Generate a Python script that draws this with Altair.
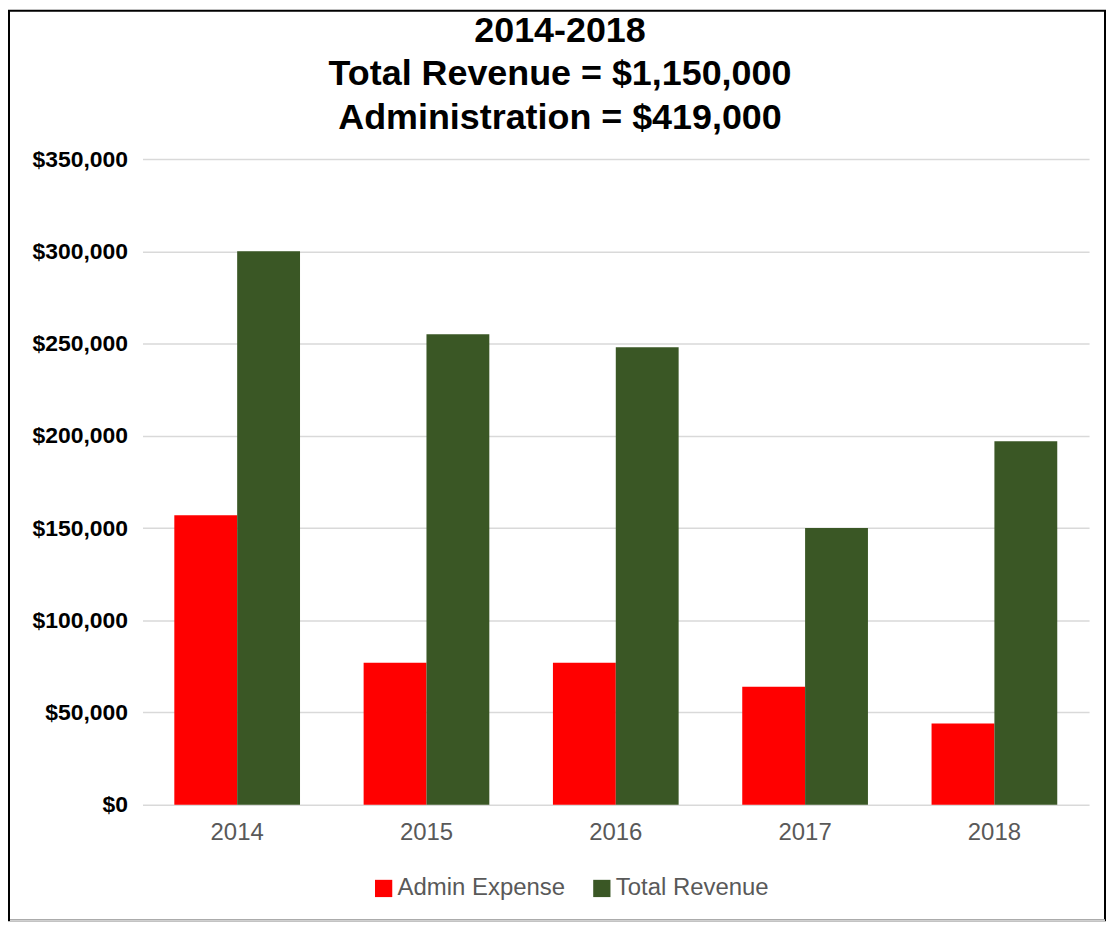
import altair as alt
import pandas as pd

years = ["2014", "2015", "2016", "2017", "2018"]
admin_expense = [157000, 77000, 77000, 64000, 44000]
total_revenue = [300000, 255000, 248000, 150000, 197000]
series_names = ["Admin Expense", "Total Revenue"]
series_colors = ["#FF0000", "#3A5725"]
y_ticks = [0, 50000, 100000, 150000, 200000, 250000, 300000, 350000]
title_lines = ["2014-2018", "Total Revenue = $1,150,000", "Administration = $419,000"]

rows = []
for i, y in enumerate(years):
    rows.append({"year": y, "series": series_names[0], "value": admin_expense[i]})
    rows.append({"year": y, "series": series_names[1], "value": total_revenue[i]})
df = pd.DataFrame(rows)

W, H = 950, 648
PL, PT, PR, PB = 135, 150, 17, 117

bars = alt.Chart(df).mark_bar().encode(
    x=alt.X("year:N", sort=years, title=None,
            scale=alt.Scale(paddingInner=0.336, paddingOuter=0.168),
            axis=alt.Axis(labelAngle=0, labelFont="Liberation Sans", labelFontSize=24,
                          labelColor="#595959", labelPadding=16, ticks=False,
                          domain=False, grid=False)),
    xOffset=alt.XOffset("series:N", sort=series_names,
                        scale=alt.Scale(paddingInner=0, paddingOuter=0)),
    y=alt.Y("value:Q", title=None,
            scale=alt.Scale(domain=[0, 350000], nice=False),
            axis=alt.Axis(values=y_ticks, format="$,.0f", labelFont="Liberation Sans",
                          labelFontSize=23, labelFontWeight="bold", labelColor="#000000",
                          labelPadding=15, ticks=False, domain=False,
                          gridColor="#d9d9d9", gridWidth=1.5)),
    color=alt.Color("series:N", sort=series_names,
                    scale=alt.Scale(domain=series_names, range=series_colors),
                    legend=alt.Legend(title=None, orient="none", direction="horizontal",
                                      legendX=230, legendY=720, padding=0,
                                      symbolType="square", symbolSize=300,
                                      symbolStrokeWidth=0, labelFont="Liberation Sans",
                                      labelFontSize=24, labelColor="#595959",
                                      labelOffset=2, columnPadding=24, labelLimit=400)),
)

frame = alt.Chart(pd.DataFrame({"a": [0]})).mark_rect(
    fill=None, stroke="#000000", strokeWidth=2
).encode(
    x=alt.value(-PL + 1), x2=alt.value(W + PR - 1),
    y=alt.value(-PT + 1), y2=alt.value(H + PB - 1),
)
bottom_line = alt.Chart(pd.DataFrame({"a": [0]})).mark_rule(
    stroke="#d0d0d0", strokeWidth=2
).encode(
    x=alt.value(-PL + 2), x2=alt.value(W + PR - 1),
    y=alt.value(H + PB - 1),
)

chart = alt.layer(bars, frame, bottom_line).properties(
    width=W, height=H,
    padding={"left": PL, "top": PT, "right": PR, "bottom": PB},
    autosize=alt.AutoSizeParams(type="none"),
    background="#ffffff",
    title=alt.Title(text=title_lines, font="Liberation Sans", fontSize=36,
                    fontWeight="bold", color="#000000", lineHeight=44,
                    anchor="middle", offset=-128, dx=-56, baseline="top"),
).configure_view(stroke=None)

chart.save("out.html", embed_options={"renderer": "svg", "actions": False})
